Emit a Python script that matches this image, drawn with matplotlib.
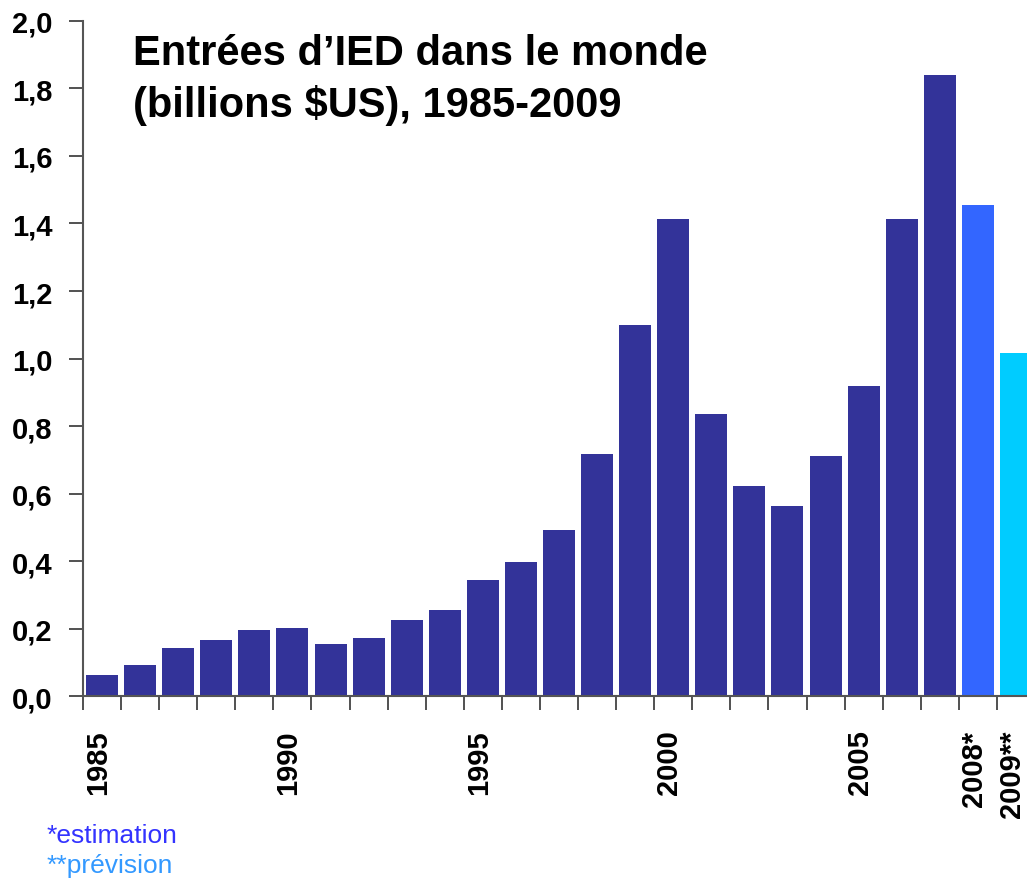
import numpy as np
import matplotlib.pyplot as plt
from matplotlib.transforms import ScaledTranslation

# World FDI inflows, trillions USD
years = ['1985', '1986', '1987', '1988', '1989', '1990', '1991', '1992', '1993',
         '1994', '1995', '1996', '1997', '1998', '1999', '2000', '2001', '2002',
         '2003', '2004', '2005', '2006', '2007', '2008*', '2009**']
inflows = [0.062, 0.092, 0.142, 0.166, 0.196, 0.201, 0.154, 0.172, 0.225,
           0.255, 0.344, 0.397, 0.492, 0.717, 1.099, 1.413, 0.836, 0.622,
           0.563, 0.711, 0.919, 1.413, 1.840, 1.455, 1.016]
labelled = ['1985', '1990', '1995', '2000', '2005', '2008*', '2009**']
yticks = [0.0, 0.2, 0.4, 0.6, 0.8, 1.0, 1.2, 1.4, 1.6, 1.8, 2.0]

plt.rcParams['font.family'] = ['Liberation Sans', 'DejaVu Sans']

fig = plt.figure(figsize=(10.27, 8.79), dpi=100)
ax = fig.add_axes([0.0808, 0.207, 0.927, 0.768])

colors = ['#333399'] * (len(years) - 2) + ['#3366FF', '#00CCFF']
x = np.arange(len(years))
ax.bar(x, inflows, width=0.84, color=colors, zorder=2)

ax.set_xlim(-0.5, len(years) - 0.5)
ax.set_ylim(0, 2.0)

# category boundaries as ticks, labels only on some years
ax.set_xticks(np.arange(len(years)) - 0.5, minor=True)
ax.set_xticks([years.index(y) for y in labelled])
ax.set_xticklabels(labelled, rotation=90, fontsize=21, fontweight='bold')
ax.tick_params(axis='x', which='major', length=0, pad=24)
ax.tick_params(axis='x', which='minor', length=10, width=1.2, color='#333333')
# nudge labels a little to the left, like the original
shift = ScaledTranslation(-4 / 100, 0, fig.dpi_scale_trans)
for lab in ax.get_xticklabels():
    lab.set_transform(lab.get_transform() + shift)

ax.set_yticks(yticks)
ax.set_yticklabels([('%.1f' % v).replace('.', ',') for v in yticks],
                   fontsize=21, fontweight='bold')
ax.tick_params(axis='y', length=10, width=1.2, color='#333333', pad=12)

for s in ['top', 'right']:
    ax.spines[s].set_visible(False)
for s in ['left', 'bottom']:
    ax.spines[s].set_color('#555555')
    ax.spines[s].set_linewidth(1.5)

fig.text(133 / 1027, 1 - 65 / 879, 'Entrées d’IED dans le monde',
         fontsize=30, fontweight='bold', va='baseline')
fig.text(133 / 1027, 1 - 117 / 879, '(billions $US), 1985-2009',
         fontsize=30, fontweight='bold', va='baseline')

fig.text(47 / 1027, 1 - 843 / 879, '*estimation', fontsize=19,
         color='#3333FF', va='baseline')
fig.text(47 / 1027, 1 - 873 / 879, '**prévision', fontsize=19,
         color='#3399FF', va='baseline')

plt.savefig('out.png', dpi=100)
